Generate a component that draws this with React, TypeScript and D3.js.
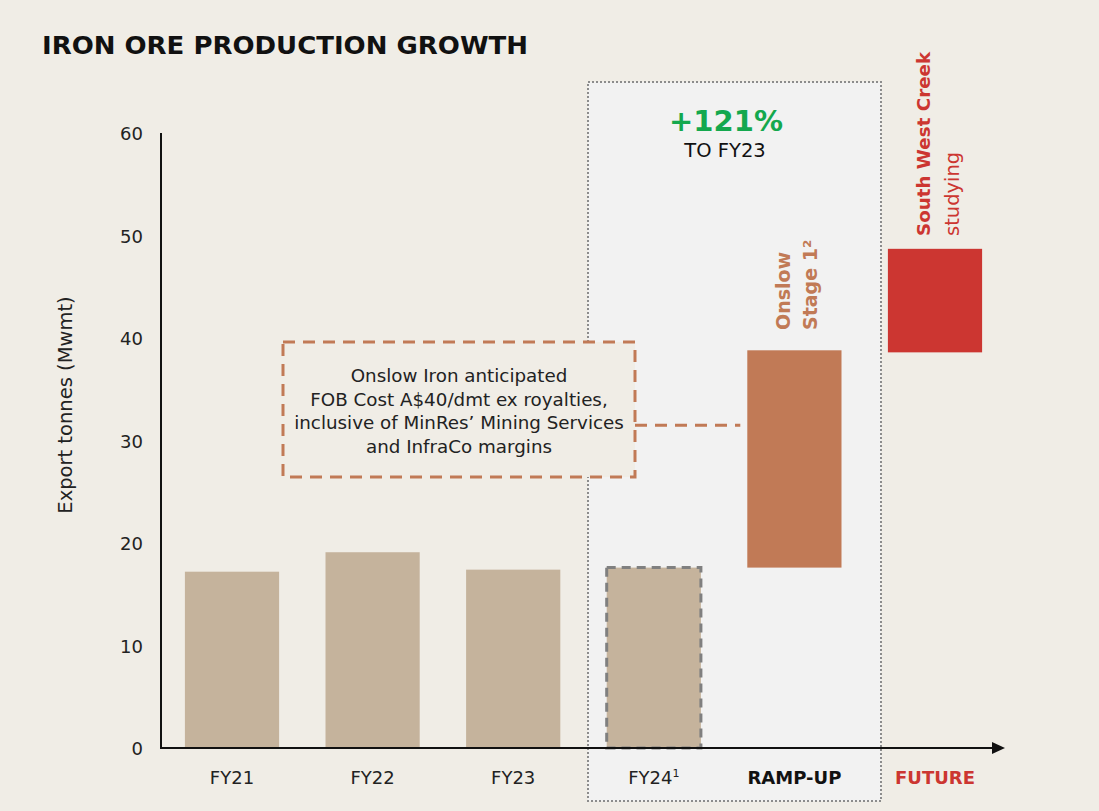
import React from 'react';
import * as d3 from 'd3';

const categories = ['FY21', 'FY22', 'FY23', 'FY24', 'RAMP-UP', 'FUTURE'];
const historical = [17.2, 19.1, 17.4, 17.6];
const rampUpRange = [17.6, 38.8];
const futureRange = [38.6, 48.7];
const yTicks = [0, 10, 20, 30, 40, 50, 60];
const costLevel = 31.5;
const boxLines = [
  'Onslow Iron anticipated',
  'FOB Cost A$40/dmt ex royalties,',
  'inclusive of MinRes’ Mining Services',
  'and InfraCo margins',
];

const W = 1099;
const H = 811;
const FONT = '"DejaVu Sans", "Noto Sans", sans-serif';

const App = () => {
  const x = d3.scaleBand<string>()
    .domain(categories)
    .range([161, 1006])
    .paddingInner(0.33)
    .paddingOuter(0.17);

  const y = d3.scaleLinear().domain([0, 60]).range([748, 133]);
  const bw = x.bandwidth();

  const rampX = x('RAMP-UP')!;
  const futX = x('FUTURE')!;

  return (
    <div style={{ position: 'fixed', left: 0, top: 0 }}>
      <svg width={W} height={H} style={{ display: 'block' }}>
        <rect x={0} y={0} width={W} height={H} fill="#f0ede6" />

        {/* ramp-up zone */}
        <rect x={588} y={82} width={293} height={719} fill="#f2f2f2"
          stroke="#8c8c8c" strokeWidth={2} strokeDasharray="2,2" />

        <text x={42} y={54} fontFamily={FONT} fontWeight="bold" fontSize={25}
          fill="#111" textLength={486} lengthAdjust="spacingAndGlyphs">
          IRON ORE PRODUCTION GROWTH
        </text>

        {/* y axis */}
        <line x1={161} x2={161} y1={y(60)} y2={y(0)} stroke="#111" strokeWidth={2} />
        {yTicks.map(t => (
          <text key={t} x={143} y={y(t) + 7} textAnchor="end" fontFamily={FONT}
            fontSize={18} fill="#222">{t}</text>
        ))}
        <text transform={`translate(72,405) rotate(-90)`} textAnchor="middle"
          fontFamily={FONT} fontSize={19.5} fill="#222">Export tonnes (Mwmt)</text>

        {/* historical bars */}
        {historical.map((v, i) => (
          <rect key={categories[i]} x={x(categories[i])} y={y(v)} width={bw}
            height={y(0) - y(v)} fill="#c5b39c"
            stroke={i === 3 ? '#808080' : 'none'} strokeWidth={3}
            strokeDasharray={i === 3 ? '9,6' : undefined} />
        ))}

        {/* ramp-up & future bars */}
        <rect x={rampX} y={y(rampUpRange[1])} width={bw}
          height={y(rampUpRange[0]) - y(rampUpRange[1])} fill="#c17a56" />
        <rect x={futX} y={y(futureRange[1])} width={bw}
          height={y(futureRange[0]) - y(futureRange[1])} fill="#cc3631" />

        {/* x axis with arrow */}
        <line x1={160} x2={994} y1={y(0)} y2={y(0)} stroke="#111" strokeWidth={2} />
        <path d={`M992,${y(0) - 6}L1005,${y(0)}L992,${y(0) + 6}Z`} fill="#111" />

        {categories.map((c, i) => {
          const cx = x(c)! + bw / 2;
          if (i < 3) {
            return <text key={c} x={cx} y={784} textAnchor="middle" fontFamily={FONT}
              fontSize={18} fill="#222">{c}</text>;
          }
          if (i === 3) {
            return <text key={c} x={cx} y={784} textAnchor="middle" fontFamily={FONT}
              fontSize={18} fill="#222">{c}<tspan fontSize={11} dy={-7}>1</tspan></text>;
          }
          return <text key={c} x={cx} y={784} textAnchor="middle" fontFamily={FONT}
            fontSize={18} fontWeight="bold" fill={i === 5 ? '#cc3631' : '#111'}>{c}</text>;
        })}

        {/* cost annotation */}
        <line x1={635} x2={rampX - 7} y1={y(costLevel)} y2={y(costLevel)}
          stroke="#c17a56" strokeWidth={3} strokeDasharray="12,8" />
        <rect x={283} y={342} width={352} height={135} fill="#f0ede6"
          stroke="#c17a56" strokeWidth={3} strokeDasharray="12,8" />
        {boxLines.map((l, i) => (
          <text key={l} x={459} y={382 + i * 23.5} textAnchor="middle"
            fontFamily={FONT} fontSize={18.3} fill="#222">{l}</text>
        ))}

        {/* growth label */}
        <text x={726} y={131} textAnchor="middle" fontFamily={FONT} fontWeight="bold"
          fontSize={29} fill="#14a84e">+121%</text>
        <text x={725} y={157} textAnchor="middle" fontFamily={FONT} fontSize={19.5}
          fill="#111">TO FY23</text>

        {/* rotated labels */}
        <text transform={`translate(790,330) rotate(-90)`} fontFamily={FONT}
          fontWeight="bold" fontSize={19} fill="#c17a56">Onslow</text>
        <text transform={`translate(817,330) rotate(-90)`} fontFamily={FONT}
          fontWeight="bold" fontSize={19} fill="#c17a56">Stage 1²</text>
        <text transform={`translate(930,236) rotate(-90)`} fontFamily={FONT}
          fontWeight="bold" fontSize={18.3} fill="#cc3631">South West Creek</text>
        <text transform={`translate(959,236) rotate(-90)`} fontFamily={FONT}
          fontSize={19.5} fill="#cc3631">studying</text>
      </svg>
    </div>
  );
};

export default App;
